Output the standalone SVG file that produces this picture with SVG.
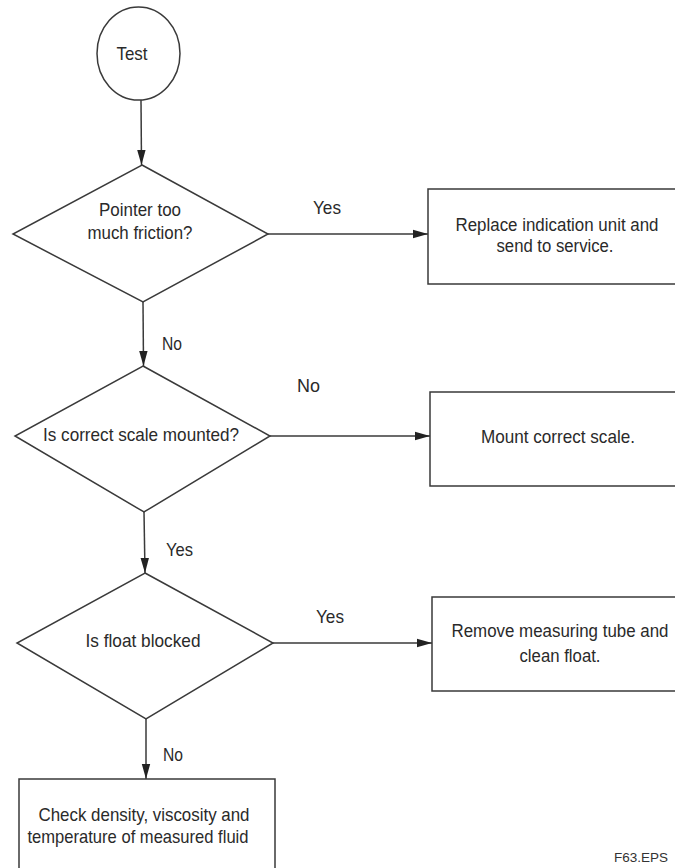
<svg xmlns="http://www.w3.org/2000/svg" width="675" height="868" viewBox="0 0 675 868">
<style>
.shape{fill:#fff;stroke:#3a3a3a;stroke-width:1.5}
.t{font-family:"Liberation Sans",Arial,sans-serif;font-size:19px;fill:#2a2a2a;text-anchor:middle}
.t2{font-family:"Liberation Sans",Arial,sans-serif;font-size:17.5px;fill:#2a2a2a;text-anchor:middle}
.lbl{font-family:"Liberation Sans",Arial,sans-serif;font-size:19px;fill:#2a2a2a}
.c{stroke:#3a3a3a;stroke-width:1.5;fill:none;marker-end:url(#ah)}
</style>
<defs>
<marker id="ah" markerUnits="userSpaceOnUse" markerWidth="16" markerHeight="10" refX="15" refY="5" orient="auto">
<path d="M0,0.8 L15,5 L0,9.2 Z" fill="#222"/>
</marker>
</defs>
<rect width="675" height="868" fill="#fff"/>
<g id="connectors">
<line class="c" x1="141" y1="100" x2="141.5" y2="165"/>
<line class="c" x1="268" y1="234" x2="428" y2="234"/>
<line class="c" x1="143" y1="302" x2="143.5" y2="366"/>
<line class="c" x1="270" y1="436" x2="430" y2="436"/>
<line class="c" x1="144" y1="512" x2="145" y2="573"/>
<line class="c" x1="273" y1="643" x2="432" y2="643"/>
<line class="c" x1="146" y1="719" x2="146" y2="779"/>
<text class="lbl" x="313" y="214" textLength="28" lengthAdjust="spacingAndGlyphs">Yes</text>
<text class="lbl" x="162" y="350" textLength="20" lengthAdjust="spacingAndGlyphs">No</text>
<text class="lbl" x="297" y="392" textLength="23" lengthAdjust="spacingAndGlyphs">No</text>
<text class="lbl" x="166" y="556" textLength="27" lengthAdjust="spacingAndGlyphs">Yes</text>
<text class="lbl" x="316" y="623" textLength="28" lengthAdjust="spacingAndGlyphs">Yes</text>
<text class="lbl" x="163" y="761" textLength="20" lengthAdjust="spacingAndGlyphs">No</text>
</g>
<g id="start">
<ellipse class="shape" cx="138.5" cy="53.5" rx="41.5" ry="46.5"/>
<text class="t" x="132" y="60" textLength="31" lengthAdjust="spacingAndGlyphs">Test</text>
</g>
<g id="d1">
<polygon class="shape" points="142,165 268,234 143,302 13,234"/>
<text class="t" x="140" y="216" textLength="82" lengthAdjust="spacingAndGlyphs">Pointer too</text>
<text class="t" x="140" y="239" textLength="105" lengthAdjust="spacingAndGlyphs">much friction?</text>
</g>
<g id="b1">
<path class="shape" d="M675,189 H428 V284 H675"/>
<text class="t2" x="557" y="231" textLength="203" lengthAdjust="spacingAndGlyphs">Replace indication unit and</text>
<text class="t2" x="555" y="252" textLength="117" lengthAdjust="spacingAndGlyphs">send to service.</text>
</g>
<g id="d2">
<polygon class="shape" points="143,366 270,436 144,512 15,436"/>
<text class="t" x="141" y="441" textLength="196" lengthAdjust="spacingAndGlyphs">Is correct scale mounted?</text>
</g>
<g id="b2">
<path class="shape" d="M675,392 H430 V486 H675"/>
<text class="t" x="558" y="443" textLength="154" lengthAdjust="spacingAndGlyphs">Mount correct scale.</text>
</g>
<g id="d3">
<polygon class="shape" points="145,573 273,643 146,719 17,643"/>
<text class="t" x="143" y="647" textLength="115" lengthAdjust="spacingAndGlyphs">Is float blocked</text>
</g>
<g id="b3">
<path class="shape" d="M675,597 H432 V691 H675"/>
<text class="t2" x="560" y="637" textLength="217" lengthAdjust="spacingAndGlyphs">Remove measuring tube and</text>
<text class="t2" x="560" y="662" textLength="81" lengthAdjust="spacingAndGlyphs">clean float.</text>
</g>
<g id="b4">
<path class="shape" d="M19,868 V779 H275 V868"/>
<text class="t" x="144" y="821" textLength="211" lengthAdjust="spacingAndGlyphs">Check density, viscosity and</text>
<text class="t" x="138" y="843" textLength="221" lengthAdjust="spacingAndGlyphs">temperature of measured fluid</text>
</g>
<text x="614" y="862" font-family="Liberation Sans,Arial,sans-serif" font-size="12.5" fill="#333" textLength="54" lengthAdjust="spacingAndGlyphs">F63.EPS</text>
</svg>
